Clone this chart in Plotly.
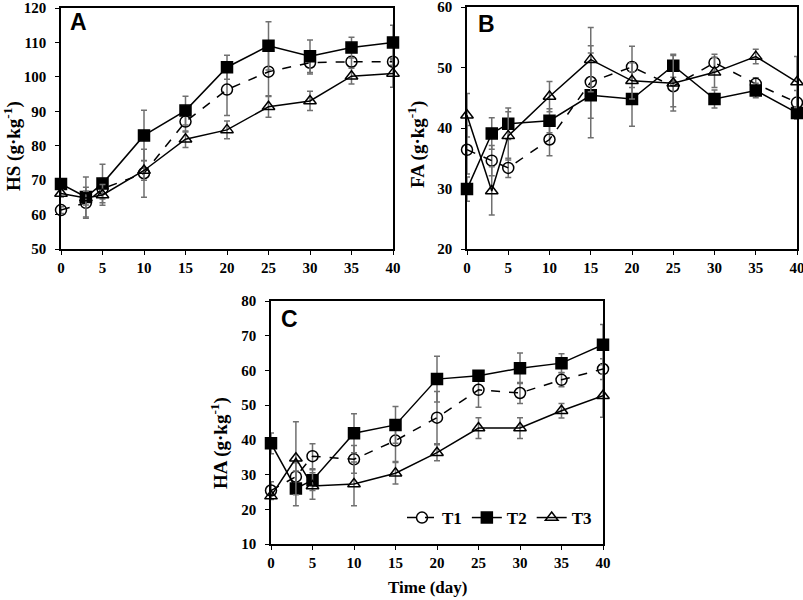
import plotly.graph_objects as go

days = [0, 3, 5, 10, 15, 20, 25, 30, 35, 40]
series_names = ["T1", "T2", "T3"]

# Panel A: HS
hs_t1 = [61.3, 63.4, 67.5, 72.0, 87.0, 96.3, 101.5, 104.1, 104.4, 104.4]
hs_t2 = [68.9, 65.1, 69.0, 83.0, 90.2, 102.8, 109.0, 106.0, 108.5, 110.0]
hs_t3 = [66.1, 64.8, 65.7, 72.8, 81.9, 84.6, 91.3, 93.0, 100.2, 101.0]
hs_t1_err = [1.0, 4.5, 3.0, 7.0, 3.0, 7.5, 7.0, 3.3, 1.5, 1.0]
hs_t2_err = [1.0, 5.8, 5.6, 7.3, 4.2, 3.5, 7.0, 4.7, 3.0, 5.0]
hs_t3_err = [1.0, 2.0, 3.0, 2.8, 2.4, 2.6, 3.0, 2.8, 2.3, 4.0]

# Panel B: FA
fa_t1 = [36.4, 34.6, 33.4, 38.1, 47.6, 50.1, 46.9, 50.8, 47.3, 44.2]
fa_t2 = [29.9, 39.1, 40.7, 41.2, 45.4, 44.8, 50.3, 44.8, 46.2, 42.5]
fa_t3 = [42.1, 29.6, 38.7, 45.2, 51.3, 47.8, 47.4, 49.2, 51.8, 47.6]
fa_t1_err = [4.0, 2.5, 1.6, 2.7, 6.0, 3.4, 3.4, 1.4, 1.0, 2.0]
fa_t2_err = [2.0, 2.6, 2.6, 2.0, 7.0, 4.5, 1.9, 1.5, 1.2, 1.0]
fa_t3_err = [3.6, 4.0, 4.0, 2.5, 5.3, 3.0, 4.6, 2.5, 1.2, 4.2]

# Panel C: HA
ha_t1 = [25.4, 29.4, 35.3, 34.4, 39.8, 46.4, 54.4, 53.5, 57.3, 60.4]
ha_t2 = [39.0, 26.0, 28.4, 41.9, 44.3, 57.5, 58.5, 60.6, 62.1, 67.4]
ha_t3 = [23.8, 34.7, 26.7, 27.3, 30.4, 36.3, 43.4, 43.4, 48.4, 52.7]
ha_t1_err = [2.5, 4.0, 3.6, 4.0, 6.0, 7.5, 5.0, 3.0, 2.0, 3.0]
ha_t2_err = [3.0, 5.0, 3.0, 5.6, 5.3, 6.6, 1.0, 4.4, 2.7, 5.8]
ha_t3_err = [1.0, 10.5, 3.8, 6.3, 3.1, 2.3, 3.0, 3.0, 2.1, 6.2]

x_ticks = [0, 5, 10, 15, 20, 25, 30, 35, 40]

W, H = 803, 600
SERIF = "Liberation Serif"
styles = {
    "T1": dict(symbol="circle-open", dash="dash"),
    "T2": dict(symbol="square", dash="solid"),
    "T3": dict(symbol="triangle-up-open", dash="solid"),
}

panels = [
    ("x", "y", [hs_t1, hs_t2, hs_t3], [hs_t1_err, hs_t2_err, hs_t3_err], False),
    ("x2", "y2", [fa_t1, fa_t2, fa_t3], [fa_t1_err, fa_t2_err, fa_t3_err], False),
    ("x3", "y3", [ha_t1, ha_t2, ha_t3], [ha_t1_err, ha_t2_err, ha_t3_err], True),
]

fig = go.Figure()
for xa, ya, vals, errs, show in panels:
    for name, v, e in zip(series_names, vals, errs):
        st = styles[name]
        fig.add_trace(go.Scatter(
            x=days, y=v, name=name, xaxis=xa, yaxis=ya,
            mode="lines+markers", legendgroup=name, showlegend=show,
            cliponaxis=False,
            line=dict(color="black", width=1.5, dash=st["dash"]),
            marker=dict(symbol=st["symbol"], size=11, color="black",
                        line=dict(color="black", width=1.5)),
            error_y=dict(type="data", array=e, visible=True,
                         color="#707070", thickness=1.5, width=3),
        ))

def px_x(p):
    return p / W

def px_y(p):
    return 1 - p / H

axis_common = dict(
    showgrid=False, zeroline=False, showline=True, linecolor="black",
    linewidth=1.5, mirror=True, ticks="outside", ticklen=4, tickwidth=1.2,
    tickcolor="black", automargin=False, ticklabeloverflow="allow",
    tickfont=dict(family=SERIF, size=15, color="black", weight="bold"),
)

fig.update_layout(
    width=W, height=H, paper_bgcolor="white", plot_bgcolor="white",
    margin=dict(l=0, r=0, t=0, b=0, autoexpand=False),
    showlegend=True,
    legend=dict(orientation="h", x=px_x(402), y=px_y(518), xanchor="left",
                yanchor="middle", bgcolor="rgba(0,0,0,0)",
                font=dict(family=SERIF, size=17, color="black", weight="bold"),
                itemwidth=30, tracegroupgap=0),
    xaxis=dict(domain=[px_x(61), px_x(393)], anchor="y", range=[0, 40],
               tickvals=x_ticks, **axis_common),
    yaxis=dict(domain=[px_y(249), px_y(8)], anchor="x", range=[50, 120],
               dtick=10, ticklabelstandoff=6, **axis_common),
    xaxis2=dict(domain=[px_x(467), px_x(797)], anchor="y2", range=[0, 40],
                tickvals=x_ticks, **axis_common),
    yaxis2=dict(domain=[px_y(249), px_y(7)], anchor="x2", range=[20, 60],
                dtick=10, ticklabelstandoff=6, **axis_common),
    xaxis3=dict(domain=[px_x(271), px_x(603)], anchor="y3", range=[0, 40],
                tickvals=x_ticks, **axis_common),
    yaxis3=dict(domain=[px_y(544), px_y(301)], anchor="x3", range=[10, 80],
                dtick=10, ticklabelstandoff=6, **axis_common),
)

ann = []
for letter, cx, cy in [("A", 78.5, 22.5), ("B", 486, 24.5), ("C", 289.5, 319)]:
    ann.append(dict(text=letter, x=px_x(cx), y=px_y(cy), xref="paper", yref="paper",
                    showarrow=False, xanchor="center", yanchor="middle",
                    font=dict(family="Liberation Sans", size=23, color="black",
                              weight="bold")))
for label, cx, cy in [("HS (g·kg<sup>-1</sup>)", 12, 146),
                      ("FA (g·kg<sup>-1</sup>)", 416, 144),
                      ("HA (g·kg<sup>-1</sup>)", 219, 443)]:
    ann.append(dict(text=label, x=px_x(cx), y=px_y(cy), xref="paper", yref="paper",
                    showarrow=False, xanchor="center", yanchor="middle",
                    textangle=-90,
                    font=dict(family=SERIF, size=19, color="black", weight="bold")))
ann.append(dict(text="Time (day)", x=px_x(428), y=px_y(587), xref="paper",
                yref="paper", showarrow=False, xanchor="center", yanchor="middle",
                font=dict(family=SERIF, size=17, color="black", weight="bold")))
fig.update_layout(annotations=ann)

fig.write_html(
    "out.html",
    config={"displayModeBar": False},
    post_script="document.body.style.margin='0';document.body.style.overflow='hidden';",
)
